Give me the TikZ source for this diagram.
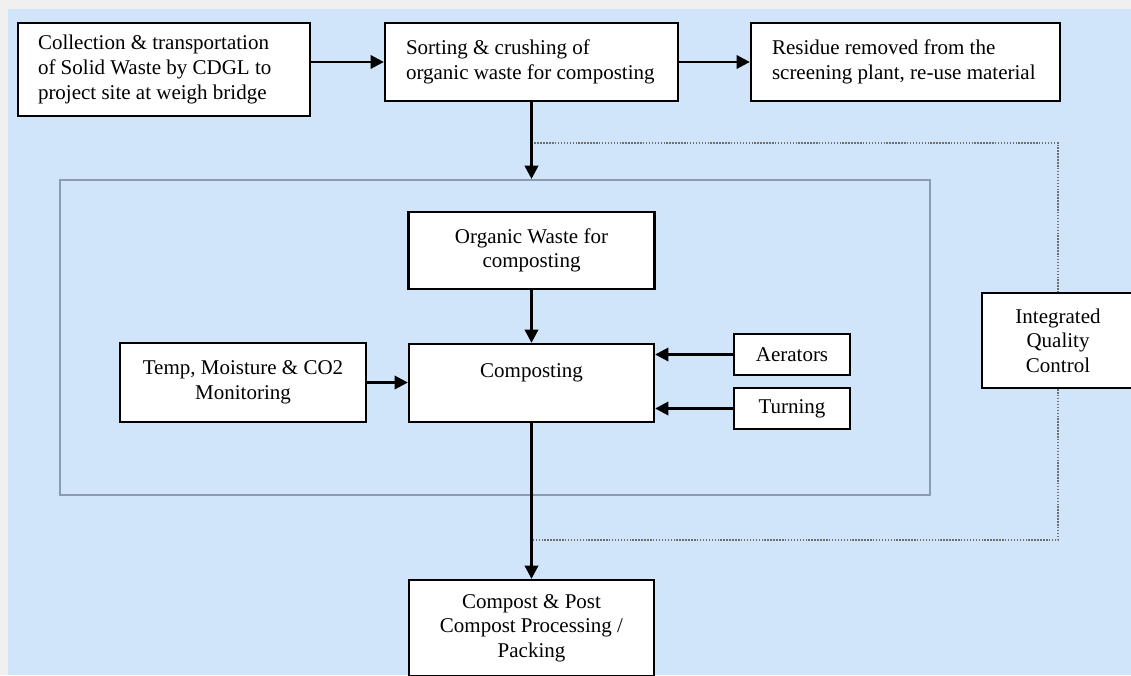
\documentclass[tikz,border=0pt]{standalone}
\usepackage{fontspec}
\setmainfont{Liberation Serif}
\usetikzlibrary{arrows.meta,calc}
\definecolor{pagegray}{HTML}{F0F0F0}
\definecolor{bgblue}{HTML}{D0E4FA}
\definecolor{framegray}{HTML}{8A9CB2}
\definecolor{dotgray}{HTML}{707070}
\tikzset{
  box/.style={draw=black, fill=white, line width=1.7pt, font=\fontsize{15.75pt}{18.4pt}\selectfont, inner ysep=2pt},
  lbox/.style={box, align=flush left},
  cbox/.style={box, align=center},
  flow/.style={draw=black, line width=2pt, -{Triangle[length=10pt,width=10pt]}},
  qcline/.style={draw=dotgray, line width=1.1pt, dash pattern=on 1.1pt off 1.1pt},
}
\begin{document}
\begin{tikzpicture}[x=0.75pt, y=-0.75pt]
\useasboundingbox (0,0) rectangle (1131,675);
\clip (0,0) rectangle (1131,675);
\fill[pagegray] (0,0) rectangle (1131,675);
\fill[bgblue] (8,9) rectangle (1131,675);

% outer frame
\node[draw=framegray, line width=1.5pt, minimum width=652.5pt, minimum height=236.25pt, inner sep=0pt] (outer) at (495,337.5) {};

% top row
\node[lbox, inner xsep=15pt, text width=189pt, minimum height=69.75pt] (collect) at (164,69.5)
  {\mbox{Collection \& transportation}\\\mbox{of Solid Waste by CDGL to}\\\mbox{project site at weigh bridge}};
\node[lbox, inner xsep=15.75pt, text width=188.25pt, minimum height=58.5pt] (sort) at (531.5,62)
  {\mbox{Sorting \& crushing of}\\\mbox{organic waste for composting}};
\node[lbox, inner xsep=15.75pt, text width=200.25pt, minimum height=58.5pt] (residue) at (905.5,62)
  {\mbox{Residue removed from the}\\\mbox{screening plant, re-use material}};

% inner
\node[cbox, minimum width=184.5pt, minimum height=57.75pt] (organic) at (531.5,250.5)
  {Organic Waste for\\composting};
\node[cbox, minimum width=183.75pt, minimum height=58.5pt] (compost) at (531.5,383)
  {Composting\\\mbox{}};
\node[cbox, minimum width=184.5pt, minimum height=59.25pt] (temp) at (243,382.5)
  {Temp, Moisture \& CO2\\Monitoring};
\node[cbox, minimum width=87pt, minimum height=30.75pt] (aer) at (792,354.5) {Aerators};
\node[cbox, minimum width=87pt, minimum height=30.75pt] (turn) at (792,408.5) {Turning};

% bottom
\node[cbox, minimum width=183.75pt, minimum height=72pt] (final) at (531.5,628)
  {Compost \& Post\\Compost Processing /\\Packing};

% quality control
\node[cbox, minimum width=114pt, minimum height=71.25pt] (qc) at (1058,340.5)
  {Integrated\\Quality\\Control};

% dotted QC loop
\coordinate (dtop) at (531.5,143);
\coordinate (dbot) at (531.5,540);
\draw[qcline] (dtop) -| (qc.north);
\draw[qcline] (qc.south) |- (dbot);

% flows
\draw[flow] (collect.east |- sort.west) -- (sort.west);
\draw[flow] (sort.east) -- (residue.west);
\draw[flow] (sort.south) -- (sort.south |- outer.north);
\draw[flow] (organic.south) -- (compost.north);
\draw[flow] (temp.east) -- (compost.west |- temp.east);
\draw[flow] (aer.west) -- (compost.east |- aer.west);
\draw[flow] (turn.west) -- (compost.east |- turn.west);
\draw[flow] (compost.south) -- (final.north);
\end{tikzpicture}
\end{document}
